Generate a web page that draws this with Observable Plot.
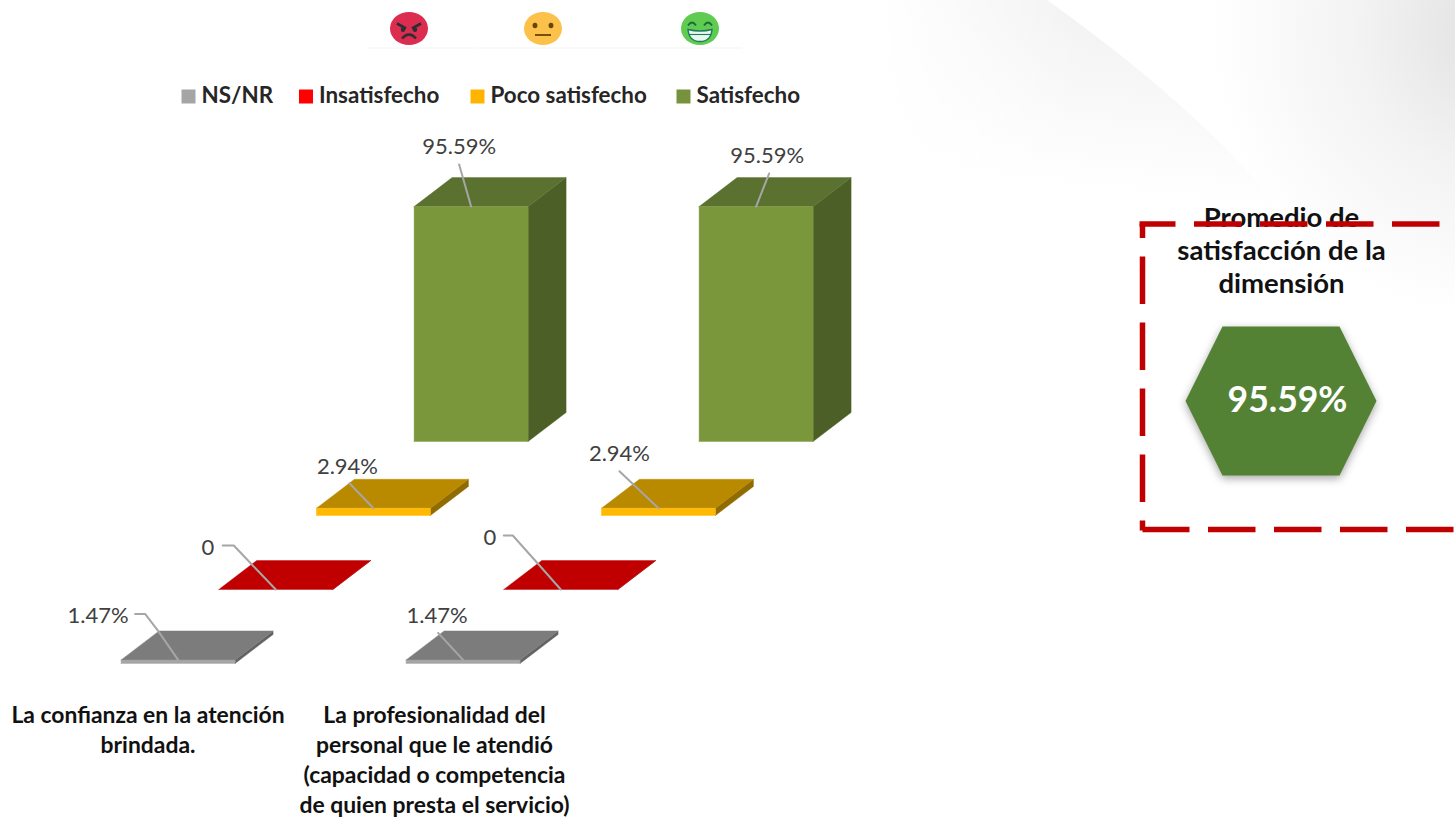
<!DOCTYPE html>
<html lang="es">
<head>
<meta charset="utf-8">
<title>Satisfacción de la dimensión</title>
<style>
  html, body { margin: 0; padding: 0; background: #fff; overflow: hidden; }
  svg { display: block; }
</style>
<script src="https://cdn.jsdelivr.net/npm/d3@7"></script>
<script src="https://cdn.jsdelivr.net/npm/@observablehq/plot@0.6"></script>
</head>
<body>
<div id="chart"></div>
<script>
// Survey results: one entry per question, in category order.
const categories = [
  "La confianza en la atención\nbrindada.",
  "La profesionalidad del\npersonal que le atendió\n(capacidad o competencia\nde quien presta el servicio)"
];
const seriesNames = ["NS/NR", "Insatisfecho", "Poco satisfecho", "Satisfecho"];
const nsnr = [1.47, 1.47];
const insatisfecho = [0, 0];
const pocoSatisfecho = [2.94, 2.94];
const satisfecho = [95.59, 95.59];
const promedio = 95.59;
const promedioTitle = "Promedio de\nsatisfacción de la\ndimensión";

const seriesValues = [nsnr, insatisfecho, pocoSatisfecho, satisfecho];
const frontColors = ["#a5a5a5", "#ff0000", "#ffb900", "#7b973c"];
const legendColors = ["#a5a5a5", "#ff0000", "#ffb400", "#76923c"];
const topColors = ["#7c7c7c", "#c00000", "#b98a00", "#5b7130"];
const sideColors = ["#636363", "#990000", "#8f6b00", "#4c5f26"];

// Oblique projection of the 3D chart, in scale units (one category = 1 on x, 1% = 1 on y).
const pxPerCategory = 285;
const pxPerPercent = 2.458;
const barWidth = 114 / pxPerCategory;
const seriesStepX = 97.67 / pxPerCategory;
const seriesStepY = 74 / pxPerPercent;
const depthX = 38 / pxPerCategory;
const depthY = 29 / pxPerPercent;
const originPx = [120.6, 663];

// Page positions for annotations are converted to the same units as the bars.
const ux = (px) => (px - originPx[0]) / pxPerCategory;
const uy = (py) => (originPx[1] - py) / pxPerPercent;

const font = "Lato, 'Open Sans', sans-serif";

// Offsets, in pixels from the front-top centre of each bar: leader vertices, then the label.
const callouts = [
  [ // first question
    {line: [[-20, -29], [-33, -46], [-43, -46]], label: [-80, -44]},
    {line: [[-23, -24], [-42, -44], [-53, -44]], label: [-68, -42]},
    {line: [[-24, -25]], label: [-26, -41.5]},
    {line: [[-12, -42]], label: [-12, -59.5]}
  ],
  [ // second question
    {line: [[-25, -27]], label: [-26, -44]},
    {line: [[-23, -26], [-48, -54], [-57, -54]], label: [-71, -52]},
    {line: [[-39, -37]], label: [-39, -54.5]},
    {line: [[13, -33]], label: [11, -50.5]}
  ]
];

const faces = (c, s) => {
  const value = seriesValues[s][c];
  const x0 = c + s * seriesStepX;
  const x1 = x0 + barWidth;
  const y0 = s * seriesStepY;
  const y1 = y0 + value;
  const poly = (points, fill) =>
    Plot.line(points, {x: (d) => d[0], y: (d) => d[1], fill, stroke: fill, strokeWidth: 0.4, curve: "linear"});
  return [
    poly([[x1, y0], [x1 + depthX, y0 + depthY], [x1 + depthX, y1 + depthY], [x1, y1], [x1, y0]], sideColors[s]),
    poly([[x0, y1], [x0 + depthX, y1 + depthY], [x1 + depthX, y1 + depthY], [x1, y1], [x0, y1]], topColors[s]),
    value > 0 ? poly([[x0, y0], [x1, y0], [x1, y1], [x0, y1], [x0, y0]], frontColors[s]) : null
  ];
};

const calloutMarks = (c, s) => {
  const value = seriesValues[s][c];
  const ax = c + s * seriesStepX + barWidth / 2;
  const ay = s * seriesStepY + value;
  const {line, label} = callouts[c][s];
  const shift = ([dx, dy]) => [ax + dx / pxPerCategory, ay - dy / pxPerPercent];
  const text = value === 0 ? "0" : `${value.toFixed(2)}%`;
  return [
    Plot.line([[0, 0], ...line].map(shift), {
      x: (d) => d[0], y: (d) => d[1], stroke: "#a6a6a6", strokeWidth: 2, curve: "linear"
    }),
    Plot.text([shift(label)], {
      x: (d) => d[0], y: (d) => d[1], text: () => text,
      fontFamily: font, fontSize: 22, fill: "#404040"
    })
  ];
};

// Soft grey swoosh in the top right of the page.
const backdrop = () => {
  const g = d3.create("svg:g");
  const defs = g.append("defs");
  const corner = defs.append("radialGradient").attr("id", "corner")
    .attr("gradientUnits", "userSpaceOnUse").attr("cx", 1500).attr("cy", 30).attr("r", 320);
  corner.append("stop").attr("offset", 0).attr("stop-color", "#e0e0e0");
  corner.append("stop").attr("offset", 0.45).attr("stop-color", "#f3f3f3");
  corner.append("stop").attr("offset", 0.9).attr("stop-color", "#ffffff");
  const sweep = defs.append("linearGradient").attr("id", "sweep")
    .attr("gradientUnits", "userSpaceOnUse")
    .attr("x1", 1080).attr("y1", 20).attr("x2", 1060).attr("y2", 185);
  sweep.append("stop").attr("offset", 0).attr("stop-color", "#f3f3f3");
  sweep.append("stop").attr("offset", 1).attr("stop-color", "#ffffff");
  const fade = defs.append("linearGradient").attr("id", "fade")
    .attr("gradientUnits", "userSpaceOnUse").attr("x1", 880).attr("x2", 1080).attr("y1", 0).attr("y2", 0);
  fade.append("stop").attr("offset", 0).attr("stop-color", "#ffffff");
  fade.append("stop").attr("offset", 1).attr("stop-color", "#ffffff").attr("stop-opacity", 0);
  g.append("rect").attr("x", 1100).attr("y", 0).attr("width", 355).attr("height", 400).attr("fill", "url(#corner)");
  const swoosh = "M800,0L1047,0C1110,45 1215,125 1285,215L800,215Z";
  g.append("path").attr("d", swoosh).attr("fill", "url(#sweep)");
  g.append("path").attr("d", swoosh).attr("fill", "url(#fade)");
  return g.node();
};

// Face icons above the legend.
const faceIcons = () => {
  const g = d3.create("svg:g");
  for (const [x1, x2] of [[368, 476], [478, 640], [640, 742]]) {
    g.append("line").attr("x1", x1).attr("x2", x2).attr("y1", 48).attr("y2", 48)
      .attr("stroke", "#f3f3f3").attr("stroke-width", 1);
  }
  const icon = (cx, fill) => {
    const i = g.append("g").attr("transform", `translate(${cx},28.5)`);
    i.append("ellipse").attr("rx", 19).attr("ry", 16.5).attr("fill", fill);
    return i;
  };
  const angry = icon(409, "#dc2c50");
  angry.append("path").attr("d", "M-12,-5L-3,0M12,-5L3,0").attr("stroke", "#2b2f33").attr("stroke-width", 2.6).attr("fill", "none");
  angry.append("ellipse").attr("cx", -6).attr("cy", 1).attr("rx", 2.2).attr("ry", 2.6).attr("fill", "#2b2f33");
  angry.append("ellipse").attr("cx", 6).attr("cy", 1).attr("rx", 2.2).attr("ry", 2.6).attr("fill", "#2b2f33");
  angry.append("path").attr("d", "M-7,10Q0,2 7,10").attr("stroke", "#2b2f33").attr("stroke-width", 2.4).attr("fill", "none");
  const neutral = icon(543, "#fcc14a");
  neutral.append("ellipse").attr("cx", -8).attr("cy", -3).attr("rx", 2.4).attr("ry", 2.8).attr("fill", "#664500");
  neutral.append("ellipse").attr("cx", 8).attr("cy", -3).attr("rx", 2.4).attr("ry", 2.8).attr("fill", "#664500");
  neutral.append("path").attr("d", "M-8,6.5L8,6.5").attr("stroke", "#664500").attr("stroke-width", 1.8);
  const happy = icon(700, "#5fcb50");
  happy.append("path").attr("d", "M-12,-3Q-8,-9 -4,-3M4,-3Q8,-9 12,-3").attr("stroke", "#1f6b3a").attr("stroke-width", 1.8).attr("fill", "none");
  happy.append("path").attr("d", "M-12,1Q0,4 12,1Q11,13 0,13Q-11,13 -12,1Z").attr("fill", "#e8f7ee").attr("stroke", "#1f7a5a").attr("stroke-width", 1.4);
  happy.append("path").attr("d", "M-11,6L11,6").attr("stroke", "#1f7a5a").attr("stroke-width", 1.1);
  return g.node();
};

// Legend entries sit on the page above the bars.
const legendX = [201, 318.5, 490, 696];
const legendMarks = [
  Plot.dot(seriesNames, {
    x: (d, i) => ux(legendX[i] - 13), y: () => uy(96), symbol: "square", r: 7.9,
    fill: (d, i) => legendColors[i], stroke: "none"
  }),
  Plot.text(seriesNames, {
    x: (d, i) => ux(legendX[i]), y: () => uy(95), text: (d) => d, textAnchor: "start",
    fontFamily: font, fontWeight: 700, fontSize: 22.4, fill: "#262626"
  })
];

const categoryMarks = Plot.text(categories, {
  x: (d, i) => ux([147.5, 434][i]),
  y: () => uy(701.5),
  text: (d) => d,
  lineAnchor: "top",
  lineHeight: 30 / 22.9,
  fontFamily: font, fontWeight: 700, fontSize: 22.9, fill: "#111"
});

// Dashed frame around the dimension average; it runs off the right edge of the page.
const frame = (points, offset) => Plot.line(points.map(([x, y]) => [ux(x), uy(y)]), {
  x: (d) => d[0], y: (d) => d[1], stroke: "#c00000", strokeWidth: 5.5,
  strokeDasharray: "47.5 18.5", strokeDashoffset: offset, strokeLinecap: "butt", curve: "linear"
});

const hexagon = [[1222, 326], [1339, 326], [1376, 400.5], [1339, 475], [1222, 475], [1185, 400.5], [1222, 326]];

const chart = Plot.plot({
  width: 1455,
  height: 817,
  margin: 0,
  x: {axis: null, domain: [0, 1], range: [originPx[0], originPx[0] + pxPerCategory]},
  y: {axis: null, domain: [0, 100], range: [originPx[1], originPx[1] - 100 * pxPerPercent]},
  marks: [
    backdrop,
    faceIcons,
    ...legendMarks,
    ...[3, 2, 1, 0].flatMap((s) => categories.flatMap((_, c) => faces(c, s))),
    ...[3, 2, 1, 0].flatMap((s) => categories.flatMap((_, c) => calloutMarks(c, s))),
    categoryMarks,
    Plot.text([promedioTitle], {
      x: () => ux(1281), y: () => uy(248.5), text: (d) => d, lineAnchor: "middle", lineHeight: 33 / 27.5,
      fontFamily: font, fontWeight: 700, fontSize: 27.5, fill: "#111"
    }),
    Plot.line(hexagon.map(([x, y]) => [ux(x), uy(y)]), {
      x: (d) => d[0], y: (d) => d[1], fill: "#548235", stroke: "none", curve: "linear",
      imageFilter: "drop-shadow(0 3px 4px rgba(0,0,0,0.35))"
    }),
    Plot.text([promedio], {
      x: () => ux(1287), y: () => uy(400), text: (d) => `${d.toFixed(2)}%`,
      fontFamily: font, fontWeight: 700, fontSize: 35.5, fill: "#fff"
    }),
    frame([[1139, 223.5], [1460, 223.5]], 11.5),
    frame([[1142, 530], [1142, 223.5]], 37.5),
    frame([[1453, 529], [1142, 529]], 0)
  ]
});
document.getElementById("chart").append(chart);
</script>
</body>
</html>
